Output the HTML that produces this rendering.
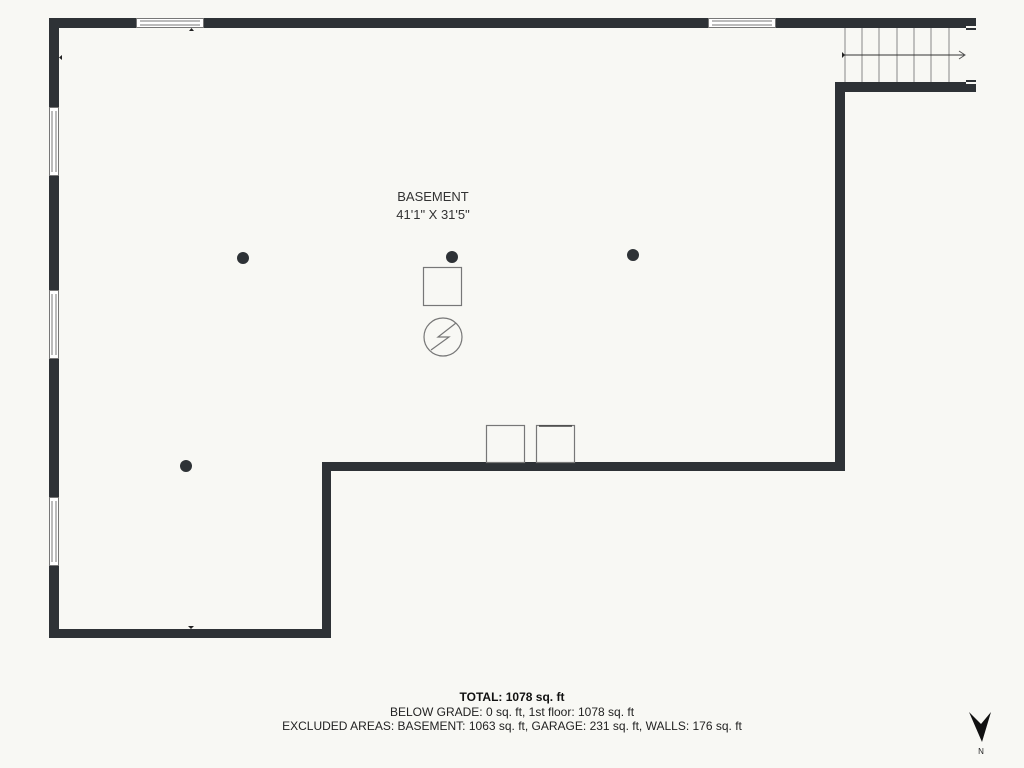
<!DOCTYPE html>
<html><head><meta charset="utf-8"><style>
html,body{margin:0;padding:0;background:#f8f8f4;}
</style></head><body>
<svg width="1024" height="768" viewBox="0 0 1024 768" xmlns="http://www.w3.org/2000/svg" style="display:block">
<rect width="1024" height="768" fill="#f8f8f4"/>
<g fill="#2e3236">
<rect x="49" y="18" width="927" height="10"/>
<rect x="49" y="18" width="10" height="620"/>
<rect x="49" y="629" width="282" height="9"/>
<rect x="322" y="462" width="9" height="176"/>
<rect x="322" y="462" width="523" height="9"/>
<rect x="835" y="82" width="10" height="389"/>
<rect x="835" y="82" width="141" height="10"/>
</g>
<!-- stair end gap -->
<rect x="966" y="28" width="12" height="54" fill="#f8f8f4"/>
<rect x="966" y="26" width="10" height="4" fill="#f8f8f4"/>
<rect x="966" y="80" width="10" height="4" fill="#f8f8f4"/>
<rect x="966" y="28" width="10" height="2" fill="#2e3236"/>
<rect x="966" y="80" width="10" height="2" fill="#2e3236"/>
<!-- windows -->
<g fill="#fff" stroke="#777" stroke-width="1">
<rect x="136.5" y="18.5" width="67" height="9"/>
<line x1="140" y1="21" x2="200" y2="21"/><line x1="140" y1="25" x2="200" y2="25"/>
<rect x="708.5" y="18.5" width="67" height="9"/>
<line x1="712" y1="21" x2="772" y2="21"/><line x1="712" y1="25" x2="772" y2="25"/>
<rect x="49.5" y="107.5" width="9" height="68"/>
<line x1="52" y1="111" x2="52" y2="172"/><line x1="56" y1="111" x2="56" y2="172"/>
<rect x="49.5" y="290.5" width="9" height="68"/>
<line x1="52" y1="294" x2="52" y2="355"/><line x1="56" y1="294" x2="56" y2="355"/>
<rect x="49.5" y="497.5" width="9" height="68"/>
<line x1="52" y1="501" x2="52" y2="562"/><line x1="56" y1="501" x2="56" y2="562"/>
</g>
<!-- stairs -->
<g stroke="#888" stroke-width="1">
<line x1="845" y1="28" x2="845" y2="82"/>
<line x1="862" y1="28" x2="862" y2="82"/>
<line x1="879" y1="28" x2="879" y2="82"/>
<line x1="897" y1="28" x2="897" y2="82"/>
<line x1="914" y1="28" x2="914" y2="82"/>
<line x1="931" y1="28" x2="931" y2="82"/>
<line x1="949" y1="28" x2="949" y2="82"/>
</g>
<line x1="843" y1="55" x2="964" y2="55" stroke="#333" stroke-width="1"/>
<polyline points="959,51 965,55 959,59" fill="none" stroke="#555" stroke-width="1"/>
<polygon points="842,52 845,55 842,58" fill="#222"/>
<!-- door markers -->
<polygon points="189,31 194,31 191.5,28" fill="#222"/>
<polygon points="62,55 62,60 59,57.5" fill="#222"/>
<polygon points="188,626 194,626 191,629" fill="#222"/>
<!-- columns -->
<g fill="#2e3236">
<circle cx="243" cy="258" r="6"/>
<circle cx="452" cy="257" r="6"/>
<circle cx="633" cy="255" r="6"/>
<circle cx="186" cy="466" r="6"/>
</g>
<g fill="none" stroke="#777" stroke-width="1.2">
<rect x="423.5" y="267.5" width="38" height="38"/>
<circle cx="443" cy="337" r="19"/>
<polyline points="431,350 449,337 438,337 456,323"/>
<rect x="486.5" y="425.5" width="38" height="37"/>
<rect x="536.5" y="425.5" width="38" height="37"/>
</g>
<line x1="539" y1="426" x2="572" y2="426" stroke="#444" stroke-width="1.5"/>
<g font-family="'Liberation Sans',sans-serif" fill="#333" text-anchor="middle">
<text x="433" y="201" font-size="13">BASEMENT</text>
<text x="433" y="219" font-size="13">41'1" X 31'5"</text>
<text x="512" y="701" font-size="12" font-weight="bold" fill="#111">TOTAL: 1078 sq. ft</text>
<text x="512" y="716" font-size="12" fill="#222">BELOW GRADE: 0 sq. ft, 1st floor: 1078 sq. ft</text>
<text x="512" y="730" font-size="12" fill="#222">EXCLUDED AREAS: BASEMENT: 1063 sq. ft, GARAGE: 231 sq. ft, WALLS: 176 sq. ft</text>
<text x="981" y="754" font-size="8" fill="#222">N</text>
</g>
<polygon points="969,712 981,724 991,712 982,742" fill="#111"/>
</svg>
</body></html>
